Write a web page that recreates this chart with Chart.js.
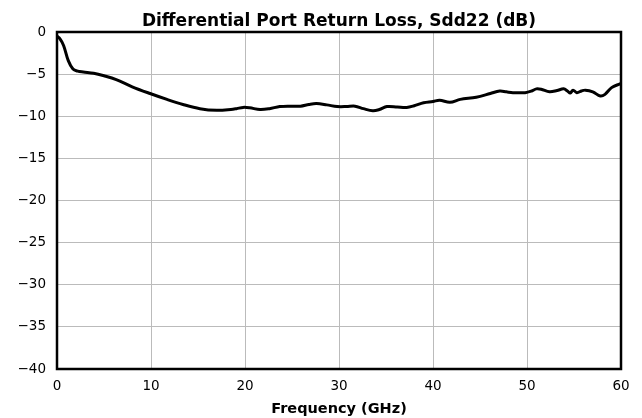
<!DOCTYPE html>
<html>
<head>
<meta charset="utf-8">
<script src="https://cdn.jsdelivr.net/npm/chart.js@4"></script>
<style>
  html, body { margin: 0; padding: 0; background: #fff; }
  #wrap { width: 642px; height: 418px; }
</style>
</head>
<body>
<div id="wrap"><canvas id="chart" width="642" height="418"></canvas></div>
<script>
const chartTitle = 'Differential Port Return Loss, Sdd22 (dB)';
const xTitle = 'Frequency (GHz)';

// frequency in GHz
const freq = [0, 0.3, 0.7, 1.2, 1.7, 2.2, 2.8, 3.9, 5.0, 6.3, 8.0, 9.9, 11.7, 13.4, 15.2, 17.0,
  18.5, 19.1, 19.8, 20.5, 21.6, 22.6, 23.7, 24.8, 25.9, 26.8, 27.6, 28.7, 29.8, 30.8, 31.7,
  32.6, 33.6, 34.3, 35.1, 36.2, 37.2, 38.0, 39.0, 40.0, 40.7, 41.8, 42.9, 44.6, 46.1, 47.1,
  47.8, 48.5, 49.8, 50.5, 51.0, 51.5, 52.4, 53.2, 53.9, 54.3, 54.6, 54.9, 55.3, 55.8, 56.2,
  57.0, 57.8, 58.3, 59.0, 59.9, 60];

// Sdd22 in dB
const sdd22 = [-0.5, -0.8, -1.6, -3.4, -4.4, -4.65, -4.75, -4.9, -5.2, -5.65, -6.5, -7.3, -8.0, -8.6, -9.1, -9.3,
  -9.2, -9.1, -8.95, -9.0, -9.2, -9.1, -8.85, -8.8, -8.8, -8.6, -8.5, -8.65, -8.85, -8.85, -8.8,
  -9.1, -9.35, -9.2, -8.85, -8.9, -8.95, -8.75, -8.4, -8.25, -8.1, -8.35, -8.0, -7.75, -7.3, -7.0,
  -7.1, -7.2, -7.2, -7.0, -6.75, -6.8, -7.1, -6.95, -6.75, -7.0, -7.25, -6.9, -7.2, -7.0, -6.9,
  -7.1, -7.6, -7.4, -6.6, -6.15, -6.1];

const xTicks = [0, 10, 20, 30, 40, 50, 60];
const yTicks = [0, -5, -10, -15, -20, -25, -30, -35, -40];

Chart.defaults.font.family = 'DejaVu Sans';
Chart.defaults.color = '#000';

// title centred on the plot area, and a black frame round it
const framePlugin = {
    id: 'frame',
    afterDraw(chart) {
        const { ctx, chartArea: a } = chart;
        ctx.save();
        ctx.strokeStyle = '#000';
        ctx.lineWidth = 2.5;
        ctx.strokeRect(a.left, a.top, a.right - a.left, a.bottom - a.top);
        ctx.font = 'bold 17px "DejaVu Sans"';
        ctx.fillStyle = '#000';
        ctx.textAlign = 'center';
        ctx.textBaseline = 'alphabetic';
        ctx.fillText(chartTitle, (a.left + a.right) / 2, 26);
        ctx.restore();
    }
};

new Chart(document.getElementById('chart'), {
    type: 'line',
    data: {
        datasets: [{
            data: freq.map((f, i) => ({ x: f, y: sdd22[i] })),
            borderColor: '#000',
            borderWidth: 3,
            pointRadius: 0,
            tension: 0.35,
            fill: false
        }]
    },
    options: {
        responsive: false,
        animation: false,
        layout: { padding: { left: 0, right: 21, top: 32, bottom: 0 } },
        plugins: {
            legend: { display: false },
            tooltip: { enabled: false }
        },
        scales: {
            x: {
                type: 'linear',
                min: 0,
                max: 60,
                afterBuildTicks: s => { s.ticks = xTicks.map(v => ({ value: v })); },
                afterFit: s => { s.height = 49; },
                grid: { color: '#bbbbbb', lineWidth: 1, drawTicks: false },
                border: { display: false },
                ticks: { font: { size: 13.5 }, padding: 9 },
                title: {
                    display: true,
                    text: xTitle,
                    font: { size: 14.5, weight: 'bold' },
                    padding: { top: 3, bottom: 0 }
                }
            },
            y: {
                min: -40,
                max: 0,
                afterBuildTicks: s => { s.ticks = yTicks.map(v => ({ value: v })); },
                afterFit: s => { s.width = 57; },
                grid: { color: '#bbbbbb', lineWidth: 1, drawTicks: false },
                border: { display: false },
                ticks: {
                    font: { size: 13.5 },
                    padding: 11,
                    callback: v => String(v).replace('-', '\u2212')
                }
            }
        }
    },
    plugins: [framePlugin]
});
</script>
</body>
</html>
